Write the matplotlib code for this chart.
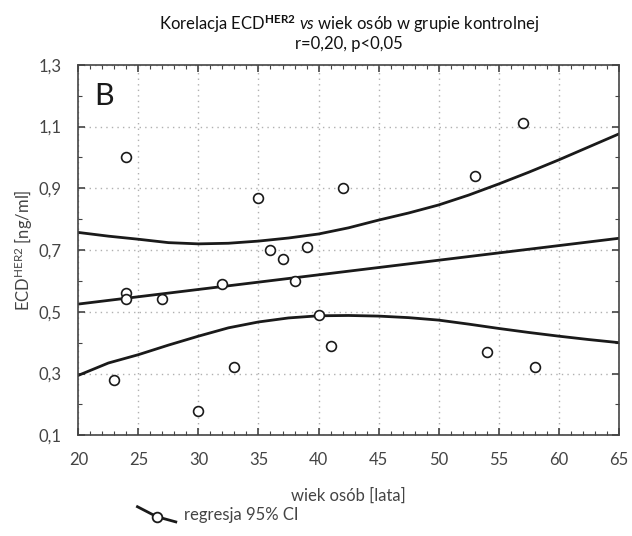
import numpy as np
import matplotlib
matplotlib.use('Agg')
import matplotlib.pyplot as plt
from matplotlib.lines import Line2D
from matplotlib.legend_handler import HandlerBase
from matplotlib.ticker import MultipleLocator

plt.rcParams['font.family'] = ['Lato', 'DejaVu Sans']
plt.rcParams['mathtext.fontset'] = 'custom'
plt.rcParams['mathtext.rm'] = 'Lato'
plt.rcParams['mathtext.it'] = 'Lato:italic'
plt.rcParams['mathtext.bf'] = 'Lato:bold'

# wiek / ECD HER2
age = [23, 24, 24, 24, 27, 30, 32, 33, 35, 36, 37, 38, 39, 40, 41, 42, 53, 54, 57, 58]
ecd = [0.28, 1.00, 0.56, 0.54, 0.54, 0.18, 0.59, 0.32, 0.87, 0.70, 0.67, 0.60, 0.71, 0.49,
       0.39, 0.90, 0.94, 0.37, 1.11, 0.32]

# regression line and 95% CI band
line_x = [20, 65]
line_y = [0.525, 0.738]
ci_x = [20, 22.5, 25, 27.5, 30, 32.5, 35, 37.5, 40, 42.5, 45, 47.5, 50, 52.5, 55, 57.5, 60, 62.5, 65]
ci_upper = [0.757, 0.745, 0.735, 0.724, 0.720, 0.722, 0.729, 0.739, 0.752, 0.772, 0.797, 0.82,
            0.846, 0.878, 0.914, 0.952, 0.992, 1.034, 1.076]
ci_lower = [0.294, 0.334, 0.361, 0.392, 0.421, 0.448, 0.467, 0.480, 0.487, 0.488, 0.486, 0.481,
            0.473, 0.460, 0.446, 0.433, 0.421, 0.410, 0.400]

xticks = [20, 25, 30, 35, 40, 45, 50, 55, 60, 65]
yticks = [0.1, 0.3, 0.5, 0.7, 0.9, 1.1, 1.3]


class SlopedHandler(HandlerBase):
    # legend symbol: slanted line with an open circle in the middle
    def create_artists(self, legend, orig_handle, xdescent, ydescent, width, height, fontsize, trans):
        xs = [-xdescent, -xdescent + width * 0.5, -xdescent + width]
        ys = [height * 1.1, height * 0.25, -height * 0.2]
        ln = Line2D(xs, ys, color='#1a1a1a', lw=2, transform=trans)
        mk = Line2D([xs[1]], [ys[1]], marker='o', ms=7, mfc='white', mec='#1a1a1a', mew=1.3,
                    ls='none', transform=trans)
        return [ln, mk]


fig = plt.figure(figsize=(6.32, 5.36), dpi=100)
ax = fig.add_axes([0.124, 0.188, 0.855, 0.691])

ax.plot(line_x, line_y, color='#1a1a1a', lw=2)
ax.plot(ci_x, ci_upper, color='#1a1a1a', lw=2)
ax.plot(ci_x, ci_lower, color='#1a1a1a', lw=2)
ax.scatter(age, ecd, s=50, facecolors='white', edgecolors='#1a1a1a', linewidths=1.2, zorder=3)

ax.set_xlim(20, 65)
ax.set_ylim(0.1, 1.3)
ax.set_xticks(xticks)
ax.set_yticks(yticks)
ax.set_yticklabels([('%.1f' % v).replace('.', ',') for v in yticks])
ax.xaxis.set_minor_locator(MultipleLocator(1))
ax.yaxis.set_minor_locator(MultipleLocator(0.1))
ax.tick_params(which='both', direction='in', top=True, right=True, labelsize=12,
               labelcolor='#444444', color='#444444')
ax.tick_params(which='major', length=5, width=1.2, pad=12)
ax.tick_params(which='minor', length=3, width=0.8)
ax.grid(True, which='major', ls=(0, (1, 3)), color='#b0b0b0', lw=1)
for sp in ax.spines.values():
    sp.set_color('#444444')
    sp.set_linewidth(1.2)

ax.text(0.03, 0.955, 'B', transform=ax.transAxes, fontsize=22, va='top', color='#1a1a1a')

ax.set_xlabel('wiek osób [lata]', fontsize=12, color='#444444', labelpad=14)
ax.set_ylabel(r'ECD$^{\mathregular{HER2}}$ [ng/ml]', fontsize=12, color='#444444', labelpad=3)
fig.text(0.552, 0.975, r'Korelacja ECD$^{\mathbf{HER2}}$ $\it{vs}$ wiek osób w grupie kontrolnej',
         ha='center', va='top', fontsize=12, color='#111111')
fig.text(0.552, 0.932, 'r=0,20, p<0,05', ha='center', va='top', fontsize=12, color='#111111')

handle = Line2D([], [], color='#1a1a1a')
fig.legend([handle], ['regresja 95% CI'], handler_map={Line2D: SlopedHandler()},
           loc='center', bbox_to_anchor=(0.345, 0.04), frameon=False, fontsize=12,
           labelcolor='#444444', handlelength=2.3, handletextpad=0.5)

fig.savefig('out.png', dpi=100)
